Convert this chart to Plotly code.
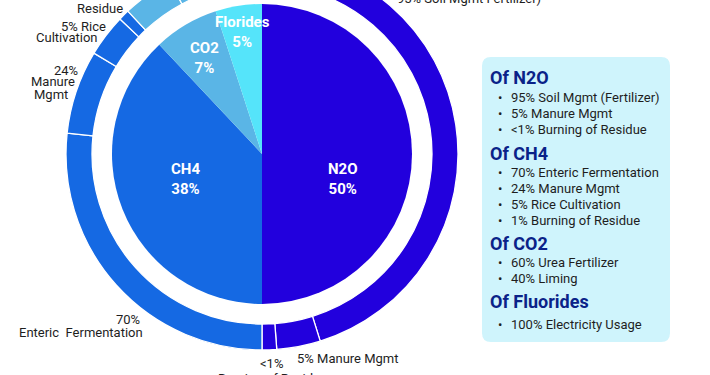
import plotly.graph_objects as go

# ---------------- data ----------------
gases = ["N2O", "CH4", "CO2", "Florides"]
gas_share = [50, 38, 7, 5]

sub_names = ["Soil Mgmt (Fertilizer)", "Manure Mgmt", "Burning of Residue",
             "Enteric Fermentation", "Manure Mgmt", "Rice Cultivation", "Burning of Residue",
             "Urea Fertilizer", "Liming", "Electricity Usage"]
sub_parent = ["N2O", "N2O", "N2O", "CH4", "CH4", "CH4", "CH4", "CO2", "CO2", "Florides"]
# share of the whole ring as drawn in the picture (%)
sub_ring_share = [45.2, 3.6, 1.2, 26.7, 6.9, 3.5, 0.9, 4.2, 2.8, 5.0]

legend_headers = ["Of N2O", "Of CH4", "Of CO2", "Of Fluorides"]
legend_items = [
    ["95% Soil Mgmt (Fertilizer)", "5% Manure Mgmt", "<1% Burning of Residue"],
    ["70% Enteric Fermentation", "24% Manure Mgmt", "5% Rice Cultivation", "1% Burning of Residue"],
    ["60% Urea Fertilizer", "40% Liming"],
    ["100% Electricity Usage"],
]

ring_label_lines = ["95% Soil Mgmt Fertilizer)", "1% Burning of", "Residue", "5% Rice", "Cultivation",
                    "24%", "Manure", "Mgmt", "70%", "Enteric  Fermentation",
                    "5% Manure Mgmt", "<1%", "Burning of Residue"]

# ---------------- style / layout ----------------
gas_colors = {"N2O": "#2200DD", "CH4": "#1569E3", "CO2": "#5AB5E6", "Florides": "#55E4FA"}
W, H, OFF = 710, 425, 50          # figure drawn taller, shifted up by OFF px
CX, CY = 262, 154                  # center in the visible frame
R_OUT, R_RING_IN, R_PIE = 196, 170, 150
FONT = "Roboto"


def px(x):
    return x / W


def py(y):
    return 1 - (y + OFF) / H


fig = go.Figure()

# outer ring
fig.add_trace(go.Pie(
    labels=[f"{p}: {n}" for p, n in zip(sub_parent, sub_names)],
    values=sub_ring_share,
    sort=False, direction="clockwise", rotation=0,
    hole=R_RING_IN / R_OUT,
    marker=dict(colors=[gas_colors[p] for p in sub_parent], line=dict(color="white", width=1.3)),
    textinfo="none", showlegend=False, hoverinfo="label",
    domain=dict(x=[px(CX - R_OUT), px(CX + R_OUT)], y=[py(CY + R_OUT), py(CY - R_OUT)]),
))

# inner pie
fig.add_trace(go.Pie(
    labels=gases, values=gas_share,
    sort=False, direction="clockwise", rotation=0,
    marker=dict(colors=[gas_colors[g] for g in gases], line=dict(width=0)),
    textinfo="none", showlegend=False, hoverinfo="label+percent",
    domain=dict(x=[px(CX - R_PIE), px(CX + R_PIE)], y=[py(CY + R_PIE), py(CY - R_PIE)]),
))

ann = []
# inner labels
inner_pos = [(343, 179), (185, 179), (204, 58), (242, 32)]
for g, v, (x, y) in zip(gases, gas_share, inner_pos):
    ann.append(dict(x=px(x), y=py(y), xref="paper", yref="paper", showarrow=False,
                    text=f"<b>{g}<br>{v}%</b>", font=dict(family=FONT, size=15, color="white"),
                    xanchor="center", yanchor="middle", align="center"))

# ring labels (x, y, anchor)
ring_pos = [(469, -1, "center"), (100, -8, "center"), (100, 8, "center"), (108, 27, "right"),
            (99, 38, "right"), (80, 70, "right"), (77, 82, "right"), (70, 94, "right"),
            (142, 319, "right"), (145, 332, "right"), (348, 358, "center"), (271, 363, "center"),
            (272, 378, "center")]
for t, (x, y, a) in zip(ring_label_lines, ring_pos):
    ann.append(dict(x=px(x), y=py(y), xref="paper", yref="paper", showarrow=False,
                    text=t, font=dict(family=FONT, size=13, color="#1E1E1E"),
                    xanchor=a, yanchor="middle"))

# legend box text
header_y = [78, 153, 243, 301]
item_y = [[98, 113, 129], [173, 188, 204, 220], [262, 278], [324]]
for hdr, items, hy, iys in zip(legend_headers, legend_items, header_y, item_y):
    ann.append(dict(x=px(488), y=py(hy), xref="paper", yref="paper", showarrow=False,
                    text=f"<b>{hdr}</b>", font=dict(family=FONT, size=18, color="#0A2288"),
                    xanchor="left", yanchor="middle"))
    for it, iy in zip(items, iys):
        ann.append(dict(x=px(500), y=py(iy), xref="paper", yref="paper", showarrow=False,
                        text="•", font=dict(family=FONT, size=13, color="#1E1E1E"),
                        xanchor="center", yanchor="middle"))
        ann.append(dict(x=px(509), y=py(iy), xref="paper", yref="paper", showarrow=False,
                        text=it, font=dict(family=FONT, size=13, color="#1E1E1E"),
                        xanchor="left", yanchor="middle"))

# rounded legend box
x0, x1, y0, y1, r = 482, 670, 57, 342, 9
path = (f"M {px(x0 + r)} {py(y0)} L {px(x1 - r)} {py(y0)} Q {px(x1)} {py(y0)} {px(x1)} {py(y0 + r)} "
        f"L {px(x1)} {py(y1 - r)} Q {px(x1)} {py(y1)} {px(x1 - r)} {py(y1)} "
        f"L {px(x0 + r)} {py(y1)} Q {px(x0)} {py(y1)} {px(x0)} {py(y1 - r)} "
        f"L {px(x0)} {py(y0 + r)} Q {px(x0)} {py(y0)} {px(x0 + r)} {py(y0)} Z")

fig.update_layout(
    width=W, height=H,
    margin=dict(l=0, r=0, t=0, b=0),
    paper_bgcolor="white", plot_bgcolor="white",
    annotations=ann,
    shapes=[dict(type="path", path=path, xref="paper", yref="paper",
                 fillcolor="#CFF4FC", line=dict(width=0), layer="below")],
    font=dict(family=FONT),
)

fig.write_html(
    "out.html",
    config={"displayModeBar": False},
    post_script=("var gd=document.getElementById('{plot_id}');"
                 "document.body.style.margin='0';document.body.style.overflow='hidden';"
                 "gd.style.marginTop='-%dpx';" % OFF),
)
